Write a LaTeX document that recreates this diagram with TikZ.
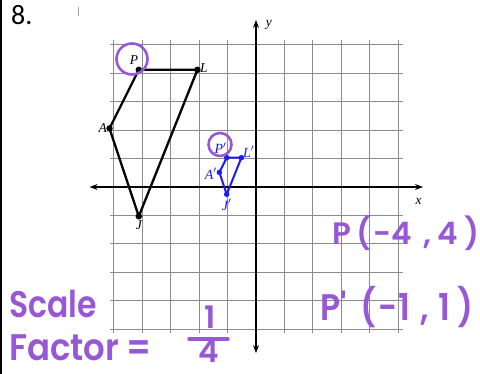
\documentclass[tikz,border=0pt]{standalone}
\usepackage{fontspec}
\setmainfont{Liberation Serif}
\newfontfamily\handfont{Poppins SemiBold}
\newfontfamily\numfont{Carlito}
\usetikzlibrary{arrows.meta}
\definecolor{hand}{RGB}{152,88,214}
\definecolor{primeblue}{RGB}{28,28,235}
\definecolor{gridgray}{RGB}{140,140,140}
\tikzset{
  gridline/.style={draw=gridgray, line width=0.9pt},
  axis/.style={draw=black, line width=1.2pt, -{Stealth[length=8pt,width=6pt]}},
  origshape/.style={draw=black, line width=2.3pt, line join=round},
  primeshape/.style={draw=primeblue, line width=2pt, line join=round},
  origdot/.style={circle, fill=black, inner sep=0pt, minimum size=6.5pt},
  primedot/.style={circle, fill=primeblue, inner sep=0pt, minimum size=5.5pt},
  origlabel/.style={font=\fontsize{13.5}{14}\selectfont\itshape, text=black, inner sep=1pt},
  primelabel/.style={font=\fontsize{14}{15}\selectfont\itshape, text=primeblue, inner sep=1pt},
  handtext/.style={font=\handfont\fontsize{31}{33}\selectfont, text=hand, inner sep=0pt},
  handbig/.style={font=\handfont\fontsize{37}{39}\selectfont, text=hand, inner sep=0pt, xscale=0.85, transform shape},
  handring/.style={draw=hand, line width=2.6pt},
}
\begin{document}
\begin{tikzpicture}[x=1pt,y=-1pt]
\useasboundingbox (0,0) rectangle (480,374);
\fill[white] (0,0) rectangle (480,374);
% left border
\draw[line width=2.5pt] (1.2,0) -- (1.2,374);
% small tick
\draw[gray!70, line width=0.7pt] (78,7) -- (78,16);
% problem number
\node[font=\numfont\fontsize{28}{30}\selectfont, anchor=base west, inner sep=0pt] (num) at (11,25) {8.};

\begin{scope}[xshift=256pt, yshift=-187pt, x=29.3pt, y=29.3pt]
  \draw[gridline] (-5,-5) grid (5,5);
  \coordinate (xl) at (-5.68,0);
  \coordinate (xr) at (5.7,0);
  \coordinate (yb) at (0,-5.67);
  \coordinate (yt) at (0,5.7);
  \draw[axis] (0,0) -- (xr);
  \draw[axis] (0,0) -- (xl);
  \draw[axis] (0,0) -- (yt);
  \draw[axis] (0,0) -- (yb);
  \node[origlabel, anchor=west] (ylab) at (0.3,5.55) {y};
  \node[origlabel, anchor=north] (xlab) at (5.55,-0.35) {x};

  % original figure
  \coordinate (P) at (-4,4);
  \coordinate (L) at (-2,4);
  \coordinate (J) at (-4,-1);
  \coordinate (A) at (-5,2);
  \draw[origshape] (P) -- (L) -- (J) -- (A) -- cycle;
  \node[origdot] (Pd) at (P) {};
  \node[origdot] (Ld) at (L) {};
  \node[origdot] (Jd) at (J) {};
  \node[origdot] (Ad) at (A) {};
  \node[origlabel, anchor=south east] (Plab) at (-3.98,4.15) {P};
  \node[origlabel, anchor=west] (Llab) at (-1.95,4.05) {L};
  \node[origlabel, anchor=east] (Alab) at (-5.05,2) {A};
  \node[origlabel, anchor=north] (Jlab) at (-4,-1.12) {J};

  % image figure
  \coordinate (P') at (-1,1);
  \coordinate (L') at (-0.5,1);
  \coordinate (J') at (-1,-0.25);
  \coordinate (A') at (-1.25,0.5);
  \draw[primeshape] (P') -- (L') -- (J') -- (A') -- cycle;
  \node[primedot] (P'd) at (P') {};
  \node[primedot] (L'd) at (L') {};
  \node[primedot] (J'd) at (J') {};
  \node[primedot] (A'd) at (A') {};
  \node[primelabel, anchor=south east] (P'lab) at (-0.97,1.1) {P$'$};
  \node[primelabel, anchor=south west] (L'lab) at (-0.48,0.98) {L$'$};
  \node[primelabel, anchor=east] (A'lab) at (-1.3,0.45) {A$'$};
  \node[primelabel, anchor=north] (J'lab) at (-1,-0.38) {J$'$};
\end{scope}

% purple rings
\draw[handring] (132,59) circle (15.5);
\draw[handring] (220,144.5) circle (11.5);

% handwritten notes
\node[handtext, anchor=base west] (Pc) at (332,245) {P\hspace{5pt}(\hspace{2pt}-4\hspace{12pt},\hspace{6pt}4\hspace{6pt})};
\node[handbig, anchor=base west, xscale=1.05] (Ppc) at (320,321) {P'\hspace{16pt}(\hspace{2pt}-1\hspace{12pt},\hspace{11pt}1\hspace{8pt})};
\node[handbig, anchor=base west] (scale) at (9,318) {Scale};
\node[handbig, anchor=base west, xscale=1.08] (factor) at (9,361) {Factor\hspace{8pt}=};
\node[handtext, anchor=base] (one) at (210,329) {1};
\draw[draw=hand, line width=3.5pt, line cap=round] (189,339) -- (228,339);
\node[handtext, anchor=base] (four) at (209,363) {4};
\end{tikzpicture}
\end{document}
